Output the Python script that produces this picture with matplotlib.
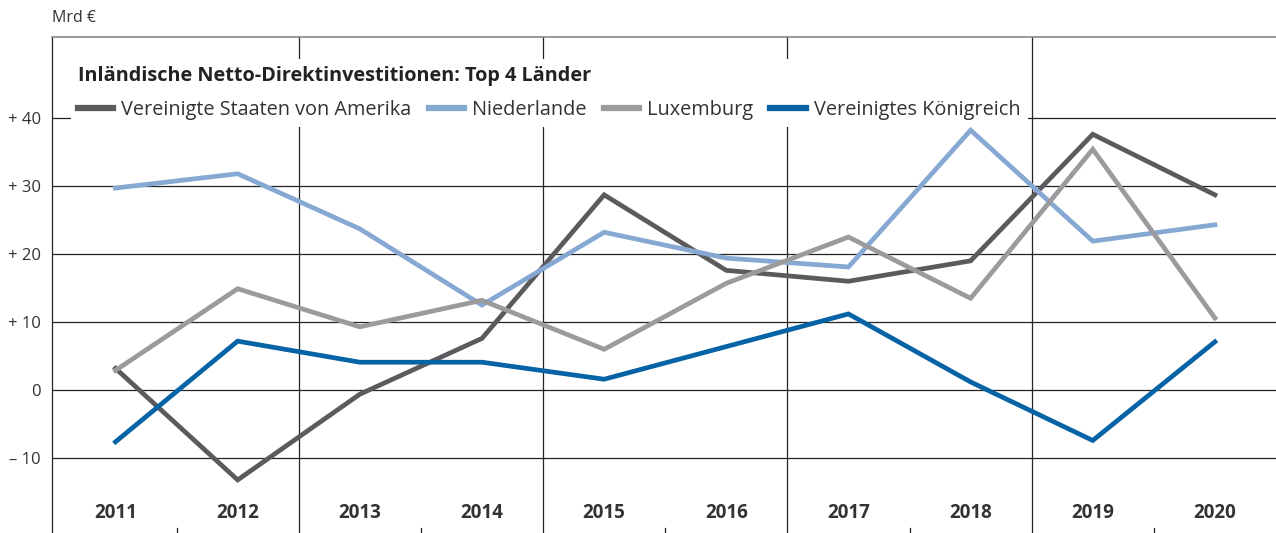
import numpy as np
import matplotlib.pyplot as plt

plt.rcParams['font.family'] = ['Open Sans', 'DejaVu Sans']

years = ['2011', '2012', '2013', '2014', '2015', '2016', '2017', '2018', '2019', '2020']
usa = [3.2, -13.2, -0.6, 7.6, 28.7, 17.6, 16.0, 19.0, 37.6, 28.7]
nl = [29.7, 31.8, 23.7, 12.5, 23.2, 19.4, 18.1, 38.2, 21.9, 24.3]
lux = [2.9, 14.9, 9.3, 13.2, 6.0, 15.7, 22.5, 13.5, 35.4, 10.6]
uk = [-7.6, 7.2, 4.1, 4.1, 1.6, 6.4, 11.2, 1.2, -7.4, 7.1]
names = ['Vereinigte Staaten von Amerika', 'Niederlande', 'Luxemburg', 'Vereinigtes Königreich']
colors = ['#5b5b5d', '#86a9d3', '#9b9b9d', '#0563a6']
yticks = [-10, 0, 10, 20, 30, 40]
ylabels = ['\u2013 10', '0', '+ 10', '+ 20', '+ 30', '+ 40']

txt = '#333333'
fig = plt.figure(figsize=(12.76, 5.33), dpi=100)
ax = fig.add_axes([52 / 1276, 0, 1224 / 1276, 496 / 533])

x = np.arange(len(years))
for vals, name, c in zip([usa, nl, lux, uk], names, colors):
    ax.plot(x, vals, color=c, lw=3.4, label=name, solid_joinstyle='miter', zorder=3)

ax.set_xlim(-0.52, 9.5)
ax.set_ylim(-21.0, 51.9)

# grid
for v in yticks:
    ax.axhline(v, color='#222222', lw=0.9, zorder=1)
for b in [1.5, 3.5, 5.5, 7.5]:
    ax.axvline(b, color='#222222', lw=0.9, zorder=1)
for b in [0.5, 2.5, 4.5, 6.5, 8.5]:
    ax.plot([b, b], [-21.0, -20.2], color='#222222', lw=0.9, zorder=1, clip_on=False)

ax.set_yticks(yticks)
ax.set_yticklabels(ylabels, fontsize=12, color=txt)
ax.tick_params(axis='y', length=0, pad=8)
ax.set_xticks([])
for xi, y in zip(x, years):
    ax.text(xi, -18.1, y, ha='center', va='center', fontsize=13.5, fontweight='bold', color=txt)

for s in ['right', 'bottom']:
    ax.spines[s].set_visible(False)
ax.spines['top'].set_color('#888888')
ax.spines['top'].set_linewidth(1.2)
ax.spines['left'].set_color('#222222')
ax.spines['left'].set_linewidth(0.9)

leg = ax.legend(loc='upper left', bbox_to_anchor=(0.0153, 0.956), ncol=4, frameon=True,
                title='Inländische Netto-Direktinvestitionen: Top 4 Länder',
                title_fontproperties={'weight': 'bold', 'size': 14.3}, alignment='left',
                fontsize=14.3, handlelength=1.8, handletextpad=0.4, columnspacing=0.85,
                borderpad=0.35, borderaxespad=0, labelspacing=0.7, fancybox=False)
leg.get_frame().set_facecolor('white')
leg.get_frame().set_edgecolor('none')
leg.get_frame().set_alpha(1)
leg.set_zorder(5)
for t in leg.get_texts():
    t.set_color(txt)
leg.get_title().set_color('#222222')
for h in leg.get_lines():
    h.set_linewidth(4.5)

fig.text(52 / 1276, 1 - 18 / 533, 'Mrd €', fontsize=11.5, color=txt, va='center', ha='left')

fig.savefig('out.png', dpi=100)
